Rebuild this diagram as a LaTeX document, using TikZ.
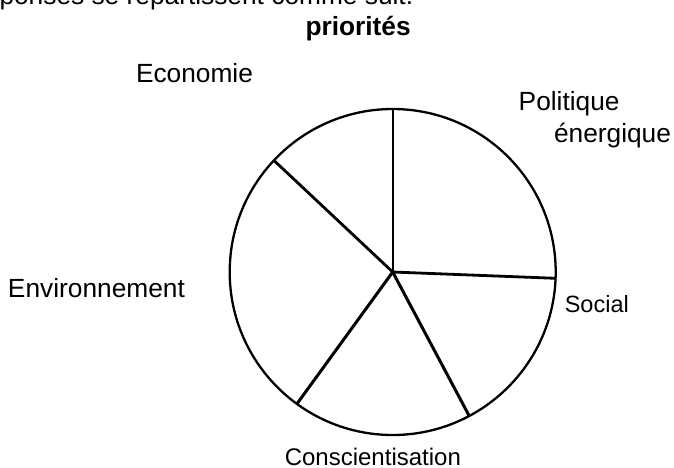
\documentclass[tikz,border=0pt]{standalone}
\usepackage{fontspec}
\setmainfont{Liberation Sans}
\begin{document}
\begin{tikzpicture}[x=1pt,y=-1pt,
  lbl/.style={anchor=base west,inner sep=0pt,outer sep=0pt,font=\fontsize{26.3}{31}\selectfont},
  smalllbl/.style={lbl,font=\fontsize{23.5}{28}\selectfont},
  midlbl/.style={lbl,font=\fontsize{24}{29}\selectfont},
  rim/.style={line width=2.3pt},
  spoke/.style={line width=2.8pt}]
\useasboundingbox (0,0) rectangle (674,467);
% top (cut) sentence and title
\node[lbl] (intro) at (-0.5,4.5) {ponses se répartissent comme suit.};
\node[lbl,font=\fontsize{26.3}{31}\selectfont\bfseries] (title) at (305.5,35) {priorités};
% pie
\coordinate (c) at (392.7,272);
\draw[rim] (c) circle[radius=163];
\coordinate (ptop) at (392.7,109);
\coordinate (pright) at (555.6,278.3);
\coordinate (plr) at (469.2,415.9);
\coordinate (pll) at (296.9,403.9);
\coordinate (pul) at (273.9,160.4);
\draw[spoke,line width=2.4pt] (c) -- (ptop);
\draw[spoke] (c) -- (pright);
\draw[spoke,line width=3pt] (c) -- (plr);
\draw[spoke,line width=3pt] (c) -- (pll);
\draw[spoke] (c) -- (pul);
% labels
\node[lbl] (economie) at (136,82.7) {Economie};
\node[lbl] (politique) at (518.7,110.7) {Politique};
\node[lbl] (energique) at (554,142.3) {énergique};
\node[lbl] (environnement) at (8,297.7) {Environnement};
\node[smalllbl] (social) at (564.8,312.3) {Social};
\node[midlbl] (conscient) at (284.8,465) {Conscientisation};
\end{tikzpicture}
\end{document}
